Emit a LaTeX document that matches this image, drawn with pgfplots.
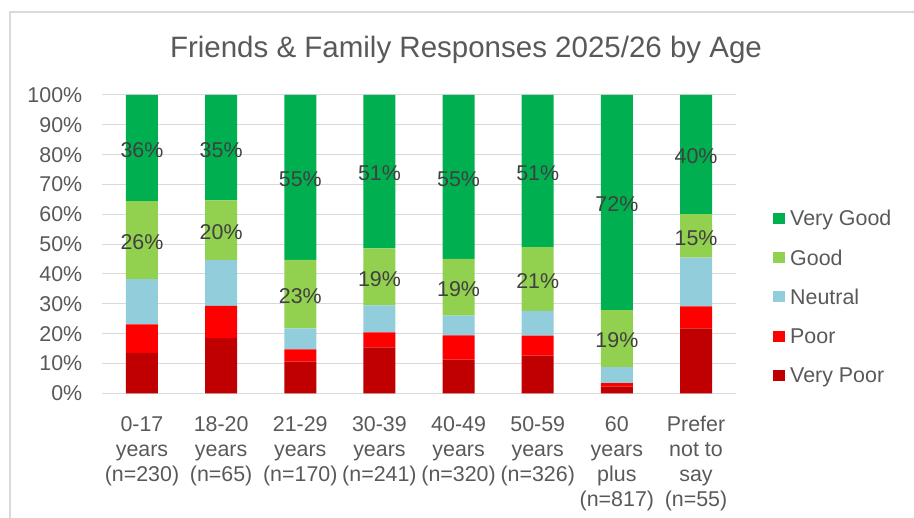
\documentclass[border=0pt]{standalone}
\usepackage{pgfplots}
\pgfplotsset{compat=1.18}
\usepackage{pgfplotstable}
\usepackage{fontspec}
\setmainfont{Liberation Sans}
\definecolor{vgcol}{HTML}{00B050}
\definecolor{gcol}{HTML}{92D050}
\definecolor{ncol}{HTML}{92CDDC}
\definecolor{pcol}{HTML}{FF0000}
\definecolor{vpcol}{HTML}{C00000}
\definecolor{txt}{HTML}{595959}
\definecolor{lbl}{HTML}{404040}
\definecolor{gridc}{HTML}{D9D9D9}

\pgfplotstableread{
x vp p n g vg
0 13.5 9.6 15.2 26.1 35.6
1 18.5 10.8 15.4 20.0 35.3
2 10.6 4.1 7.1 22.9 55.3
3 15.4 5.0 9.1 19.1 51.4
4 11.3 8.1 6.6 19.1 54.9
5 12.6 6.7 8.3 21.4 51.0
6 2.2 1.2 5.4 19.1 72.1
7 21.8 7.3 16.4 14.6 39.9
}\data

\newcommand\fs{\fontsize{21.4}{25}\selectfont}

\pgfplotsset{
  common/.style={
    scale only axis, width=633.2pt, height=298.3pt,
    at={(102.4pt,-393.3pt)}, anchor=south west,
    xmin=-0.5, xmax=7.5, ymin=0, ymax=100,
  },
  sq/.style={legend image code/.code={\fill[##1] (0pt,-5.5pt) rectangle (11.5pt,5.5pt);}},
  lab/.style={draw=none, mark=none,
    nodes near coords={\pgfmathprintnumber[fixed,precision=0,assume math mode=true]{\pgfplotspointmeta}\%},
    every node near coord/.style={anchor=center, font=\fs, text=lbl, inner sep=0pt, yshift=-2pt}},
}

\begin{document}
\begin{tikzpicture}[x=1pt,y=1pt]
\useasboundingbox (0,-518) rectangle (914,0);
\draw[gridc, line width=1.2pt] (10,-520) -- (10,-12) -- (916,-12);
\node[anchor=base, font=\fontsize{29.5}{32}\selectfont, text=txt, inner sep=0pt] at (466,-58) {Friends \& Family Responses 2025/26 by Age};

\begin{axis}[common, ybar stacked, bar width=32pt,
  every axis plot post/.append style={sq},
  axis line style={draw=none},
  major tick length=0pt,
  ymajorgrids, grid style={gridc, line width=1pt},
  ytick={0,10,...,100},
  yticklabels={0\%,10\%,20\%,30\%,40\%,50\%,60\%,70\%,80\%,90\%,100\%},
  yticklabel style={font=\fs, text=txt, inner sep=0pt, xshift=-20pt},
  xtick={0,...,7},
  xticklabels={{0-17\\years\\(n=230)},{18-20\\years\\(n=65)},{21-29\\years\\(n=170)},{30-39\\years\\(n=241)},{40-49\\years\\(n=320)},{50-59\\years\\(n=326)},{60\\years\\plus\\(n=817)},{Prefer\\not to\\say\\(n=55)}},
  xticklabel style={font=\fs, text=txt, align=center, inner sep=0pt, anchor=north, yshift=-23pt},
  reverse legend,
  legend cell align=left,
  legend style={at={(1.0591,0.6135)}, anchor=north west, draw=none, fill=none, inner sep=0pt,
    font=\fs, text=txt, row sep=24pt,
    nodes={inner ysep=0pt, inner xsep=5.5pt, text height=15.3pt, text depth=0pt}},
]
\addplot[fill=vpcol, draw=none] table[x=x, y=vp]{\data};
\addplot[fill=pcol, draw=none] table[x=x, y=p]{\data};
\addplot[fill=ncol, draw=none] table[x=x, y=n]{\data};
\addplot[fill=gcol, draw=none] table[x=x, y=g]{\data};
\addplot[fill=vgcol, draw=none] table[x=x, y=vg]{\data};
\legend{Very Poor, Poor, Neutral, Good, Very Good}
\end{axis}

\begin{axis}[common, hide axis, clip=false]
\addplot[lab, point meta=\thisrow{g}] table[x=x, y expr=\thisrow{vp}+\thisrow{p}+\thisrow{n}+0.5*\thisrow{g}]{\data};
\addplot[lab, point meta=\thisrow{vg}] table[x=x, y expr=\thisrow{vp}+\thisrow{p}+\thisrow{n}+\thisrow{g}+0.5*\thisrow{vg}]{\data};
\end{axis}
\end{tikzpicture}
\end{document}
